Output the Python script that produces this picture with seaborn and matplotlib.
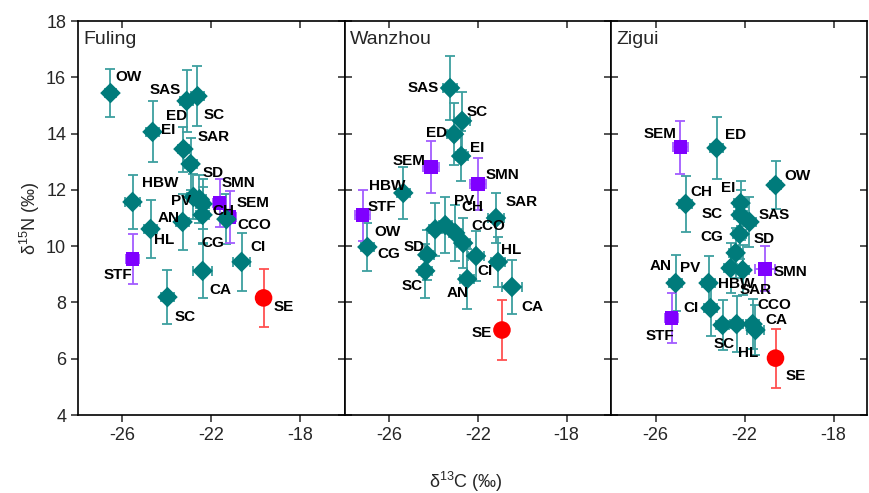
import matplotlib
matplotlib.use("Agg")
import matplotlib.pyplot as plt
import seaborn as sns
import pandas as pd

# ---------------- data ----------------
sites = ["Fuling", "Wanzhou", "Zigui"]

fuling_names = ["OW", "SAS", "SC", "ED", "EI", "SAR", "SD", "SMN", "HBW", "PV", "CH",
                "SEM", "AN", "CCO", "HL", "CG", "CI", "STF", "CA", "SC", "SE"]
fuling_x = [-26.54, -23.12, -22.63, -23.26, -24.65, -22.94, -22.54, -21.64, -25.55, -22.81, -22.40,
            -21.19, -23.30, -21.33, -24.74, -22.40, -20.65, -25.55, -22.40, -23.98, -19.66]
fuling_y = [15.44, 15.16, 15.33, 13.45, 14.06, 12.92, 11.67, 11.53, 11.57, 11.75, 11.50,
            11.03, 10.86, 10.96, 10.61, 11.11, 9.44, 9.54, 9.12, 8.19, 8.16]
fuling_xsd = [0.25, 0.3, 0.3, 0.25, 0.3, 0.3, 0.3, 0.3, 0.35, 0.3, 0.3,
              0.3, 0.3, 0.3, 0.3, 0.3, 0.4, 0.3, 0.42, 0.3, 0.3]
fuling_ysd = [0.85, 1.1, 1.07, 0.8, 1.08, 0.92, 0.85, 0.85, 0.97, 0.8, 0.9,
              0.92, 1.0, 0.9, 1.03, 1.0, 1.03, 0.9, 0.96, 0.96, 1.03]
fuling_group = ["fish", "fish", "fish", "fish", "fish", "fish", "fish", "inv", "fish", "fish", "fish",
                "inv", "fish", "fish", "fish", "fish", "fish", "inv", "fish", "fish", "base"]

wanzhou_names = ["SAS", "SC", "ED", "EI", "SEM", "SMN", "HBW", "STF", "SAR", "PV", "CH",
                 "CCO", "OW", "CG", "SD", "CI", "HL", "SC", "AN", "CA", "SE"]
wanzhou_x = [-23.26, -22.72, -23.08, -22.76, -24.11, -22.00, -25.37, -27.21, -21.19, -23.48, -23.03,
             -22.67, -23.93, -26.99, -24.29, -22.09, -21.10, -24.38, -22.49, -20.47, -20.92]
wanzhou_y = [15.62, 14.45, 13.98, 13.20, 12.81, 12.21, 11.89, 11.10, 11.00, 10.75, 10.47,
             10.11, 10.60, 9.97, 9.69, 9.65, 9.44, 9.12, 8.83, 8.55, 7.02]
wanzhou_xsd = [0.3, 0.35, 0.3, 0.3, 0.35, 0.35, 0.3, 0.35, 0.35, 0.3, 0.3,
               0.3, 0.3, 0.3, 0.3, 0.35, 0.3, 0.3, 0.3, 0.45, 0.25]
wanzhou_ysd = [1.12, 1.03, 1.1, 0.9, 0.92, 0.92, 0.92, 0.9, 0.9, 1.0, 1.0,
               0.9, 0.95, 0.85, 0.9, 0.9, 0.9, 0.96, 1.06, 0.96, 1.05]
wanzhou_group = ["fish", "fish", "fish", "fish", "inv", "inv", "fish", "inv", "fish", "fish", "fish",
                 "fish", "fish", "fish", "fish", "fish", "fish", "fish", "fish", "fish", "base"]

zigui_names = ["SEM", "ED", "OW", "CH", "EI", "SC", "SAS", "CG", "SD", "AN", "PV",
               "HBW", "SAR", "SMN", "CI", "STF", "CCO", "CA", "SC", "HL", "SE"]
zigui_x = [-24.88, -23.26, -20.61, -24.65, -22.18, -22.18, -21.78, -22.22, -22.40, -25.10, -23.62,
           -22.63, -22.09, -21.10, -23.53, -25.28, -21.64, -21.51, -22.99, -22.36, -20.61]
zigui_y = [13.52, 13.49, 12.17, 11.50, 11.53, 11.11, 10.86, 10.43, 9.76, 8.69, 8.69,
           9.22, 9.15, 9.19, 7.80, 7.45, 7.23, 7.02, 7.20, 7.23, 6.02]
zigui_xsd = [0.35, 0.3, 0.25, 0.3, 0.3, 0.3, 0.3, 0.3, 0.3, 0.3, 0.3,
             0.3, 0.3, 0.45, 0.3, 0.3, 0.3, 0.4, 0.3, 0.3, 0.3]
zigui_ysd = [0.94, 1.1, 0.85, 0.98, 0.8, 0.9, 0.9, 0.9, 0.9, 1.0, 0.95,
             0.9, 0.9, 0.8, 1.0, 0.9, 0.9, 0.9, 0.9, 1.0, 1.05]
zigui_group = ["inv", "fish", "fish", "fish", "fish", "fish", "fish", "fish", "fish", "fish", "fish",
               "fish", "fish", "inv", "fish", "inv", "fish", "fish", "fish", "fish", "base"]

# ---------------- label placement (pixel offsets: right, up) ----------------
fuling_lab = [(18, 16), (-21, 11), (17, -19), (-7, 33), (16, 2), (23, 27), (14, 26), (19, 20),
              (28, 19), (-12, -4), (21, -7), (24, 14), (-14, 4), (28, -6), (14, -11), (10, -28),
              (16, 15), (-15, -16), (18, -19), (18, -20), (20, -9)]
wanzhou_lab = [(-27, 0), (15, 9), (-17, 1), (16, 8), (-22, 6), (24, 9), (-16, 7), (19, 8),
               (26, 16), (19, 24), (17, 26), (25, 17), (-48, -3), (21, -7), (-13, 8), (9, -15),
               (13, 12), (-13, -15), (-10, -14), (20, -20), (-20, -3)]
zigui_lab = [(-20, 13), (19, 13), (22, 9), (16, 12), (-12, 15), (-28, 1), (25, 7), (-28, -3),
             (29, 14), (-15, 17), (-18, 15), (6, -16), (13, -20), (26, -3), (-20, 0), (-12, -18),
             (22, 19), (21, 10), (2, -19), (12, -29), (20, -18)]

# ---------------- styling ----------------
sns.set_style("white")
plt.rcParams["font.family"] = ["Liberation Sans", "DejaVu Sans"]
plt.rcParams["mathtext.default"] = "regular"
plt.rcParams["axes.unicode_minus"] = False

marker_col = {"fish": "#007b7b", "inv": "#7f00ff", "base": "#ff0000"}
err_col = {"fish": "#3d9f9f", "inv": "#a35cff", "base": "#ff5050"}
marker_map = {"fish": "D", "inv": "s", "base": "o"}
size_map = {"fish": 110, "inv": 100, "base": 160}

fig = plt.figure(figsize=(8.69, 4.93), dpi=100)
W, H = 869.0, 493.0
bottom = (H - 415) / H
height = (415 - 21) / H
panels = [(78, 267, (-28, -16)), (345, 266, (-28, -16)), (611, 256, (-28, -16.5))]

datasets = [
    (fuling_names, fuling_x, fuling_y, fuling_xsd, fuling_ysd, fuling_group, fuling_lab),
    (wanzhou_names, wanzhou_x, wanzhou_y, wanzhou_xsd, wanzhou_ysd, wanzhou_group, wanzhou_lab),
    (zigui_names, zigui_x, zigui_y, zigui_xsd, zigui_ysd, zigui_group, zigui_lab),
]

for i, (site, (left, width, xl), ds) in enumerate(zip(sites, panels, datasets)):
    names, xs, ys, xsd, ysd, grp, lab = ds
    ax = fig.add_axes([left / W, bottom, width / W, height])
    df = pd.DataFrame({"name": names, "x": xs, "y": ys, "xsd": xsd, "ysd": ysd, "group": grp})

    for g, sub in df.groupby("group"):
        ax.errorbar(sub["x"], sub["y"], xerr=sub["xsd"], yerr=sub["ysd"], fmt="none",
                    ecolor=err_col[g], elinewidth=1.3, capsize=3.8, capthick=1.3, zorder=2)

    sns.scatterplot(data=df, x="x", y="y", hue="group", style="group", size="group",
                    palette=marker_col, markers=marker_map, sizes=size_map,
                    linewidth=0, legend=False, ax=ax, zorder=3)

    for n, x, y, (dx, dy) in zip(names, xs, ys, lab):
        ax.annotate(n, (x, y), xytext=(dx * 0.72, dy * 0.72), textcoords="offset points",
                    ha="center", va="center", fontsize=11, fontweight="bold", color="black",
                    zorder=5)

    ax.set_xlim(*xl)
    ax.set_ylim(4, 18)
    ax.set_xticks([-26, -22, -18])
    ax.set_yticks(range(4, 19, 2))
    ax.set_xlabel("")
    ax.set_ylabel("")
    for sp in ax.spines.values():
        sp.set_color("black")
        sp.set_linewidth(1.2)
    ax.tick_params(axis="x", which="major", direction="out", length=5, width=1.1,
                   labelsize=13, bottom=True, top=False)
    ax.tick_params(axis="y", which="major", direction="out" if i == 0 else "in",
                   length=5, width=1.1, labelsize=13, left=True, labelleft=(i == 0))
    # inner ticks on top and right
    sec_top = ax.secondary_xaxis("top")
    sec_top.set_xticks([-26, -22, -18])
    sec_top.tick_params(direction="in", length=5, width=1.1, labeltop=False)
    sec_top.spines["top"].set_visible(False)
    sec_r = ax.secondary_yaxis("right")
    sec_r.set_yticks(range(4, 19, 2))
    sec_r.tick_params(direction="in", length=5, width=1.1, labelright=False)
    sec_r.spines["right"].set_visible(False)

    ax.text(0.02, 0.975, site, transform=ax.transAxes, ha="left", va="top", fontsize=14)

fig.text(30 / W, 1 - 218 / H, r"δ$^{15}$N (‰)", rotation=90, ha="center", va="center", fontsize=13)
fig.text(466 / W, 1 - 482 / H, r"δ$^{13}$C (‰)", ha="center", va="center", fontsize=13)

fig.savefig("out.png", dpi=100)
